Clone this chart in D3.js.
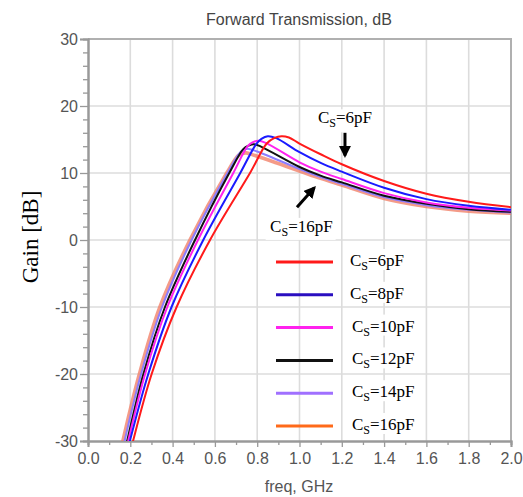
<!DOCTYPE html>
<html><head><meta charset="utf-8">
<script src="https://cdn.jsdelivr.net/npm/d3@7"></script>
<style>body{margin:0;background:#fff}</style>
</head><body><svg id="c" width="523" height="497"></svg>
<script>
// ---- data ----
const seriesNames = ["6pF","8pF","10pF","12pF","14pF","16pF"];
const plotColors = ["#ff1a1a","#1a1aff","#ff22ee","#111111","#8c7cff","#f07a60"];
const legendColors = ["#ff1a1a","#2a0fc0","#ff22ee","#111111","#a070ff","#ff6a1a"];
const freq6  = [0.19,0.213,0.301,0.419,0.577,0.766,0.845,0.88,0.915,0.95,1.0,1.1,1.2,1.4,1.6,1.8,2.0];
const gain6  = [-33,-30,-20,-10,0,10,14.4,15.2,15.5,15.3,14.4,12.8,11.3,8.8,6.9,5.7,4.9];
const freq8  = [0.175,0.198,0.285,0.395,0.545,0.72,0.795,0.82,0.85,0.89,1.0,1.1,1.2,1.4,1.6,1.8,2.0];
const gain8  = [-33,-30,-20,-10,0,10,14.3,15.1,15.5,15.2,13.1,11.5,10.2,7.8,6.1,5.1,4.5];
const freq10 = [0.168,0.19,0.27,0.375,0.52,0.687,0.755,0.78,0.805,0.84,1.0,1.1,1.2,1.4,1.6,1.8,2.0];
const gain10 = [-33,-30,-20,-10,0,10,14.0,14.6,14.8,14.5,11.6,10.2,9.1,7.0,5.6,4.8,4.4];
const freq12 = [0.164,0.185,0.262,0.364,0.506,0.668,0.735,0.76,0.785,0.82,1.0,1.1,1.2,1.4,1.6,1.8,2.0];
const gain12 = [-33,-30,-20,-10,0,10,13.6,14.1,14.3,13.9,10.9,9.6,8.6,6.6,5.4,4.6,4.2];
const freq14 = [0.153,0.173,0.251,0.35,0.49,0.66,0.72,0.74,0.76,0.8,1.0,1.1,1.2,1.4,1.6,1.8,2.0];
const gain14 = [-33,-30,-20,-10,0,10,13.1,13.5,13.6,13.2,10.6,9.4,8.4,6.4,5.2,4.5,4.1];
const freq16 = [0.145,0.165,0.243,0.34,0.482,0.656,0.71,0.728,0.748,0.79,1.0,1.1,1.2,1.4,1.6,1.8,2.0];
const gain16 = [-33,-30,-20,-10,0,10,12.6,12.9,13.0,12.6,10.3,9.2,8.2,6.2,5.0,4.3,4.0];
const xTicks = [0,0.2,0.4,0.6,0.8,1.0,1.2,1.4,1.6,1.8,2.0];
const yTicks = [-30,-20,-10,0,10,20,30];
const title = "Forward Transmission, dB";
const xLabel = "freq, GHz";
const yLabel = "Gain [dB]";

const freqs = [freq6,freq8,freq10,freq12,freq14,freq16];
const gains = [gain6,gain8,gain10,gain12,gain14,gain16];

// ---- layout ----
const svg = d3.select("#c");
const L = 88, R = 511, T = 39, B = 441;
const x = d3.scaleLinear().domain([0,2]).range([L,R]);
const y = d3.scaleLinear().domain([-30,30]).range([B,T]);
const sans = "'Liberation Sans', Arial, sans-serif";
const serif = "'Liberation Serif', 'Times New Roman', serif";

// grid
const g = svg.append("g");
g.selectAll(".vg").data(xTicks.filter(d=>d>0 && d<2)).join("line")
  .attr("x1",d=>x(d)).attr("x2",d=>x(d)).attr("y1",T).attr("y2",B)
  .attr("stroke","#dcdcdc").attr("stroke-width",1.6);
g.selectAll(".hg").data(yTicks.filter(d=>d>-30 && d<30)).join("line")
  .attr("y1",d=>y(d)).attr("y2",d=>y(d)).attr("x1",L).attr("x2",R)
  .attr("stroke","#dcdcdc").attr("stroke-width",1.6);
svg.append("path").attr("d",`M${L},${T}H${R}V${B}`).attr("fill","none")
  .attr("stroke","#b0b0b0").attr("stroke-width",2);

// axes
const xAxis = d3.axisBottom(x).tickValues(xTicks).tickFormat(d3.format(".1f")).tickSize(6).tickPadding(6);
const xMinor = d3.axisBottom(x).tickValues(d3.range(0.1,2,0.2)).tickFormat("").tickSize(4);
const yAxis = d3.axisLeft(y).tickValues(yTicks).tickFormat(d=>String(d)).tickSize(8).tickPadding(2);
const yMinor = d3.axisLeft(y).tickValues(d3.range(-28,30,2).filter(d=>d%10!==0)).tickFormat("").tickSize(5);

function styleAxis(sel){
  sel.select(".domain").attr("stroke","#999").attr("stroke-width",2);
  sel.selectAll(".tick line").attr("stroke","#999").attr("stroke-width",1.3);
  sel.selectAll(".tick text").attr("fill","#555").style("font-family",sans).style("font-size","16px");
}
svg.append("g").attr("transform",`translate(0,${B})`).call(xMinor).call(styleAxis);
svg.append("g").attr("transform",`translate(0,${B})`).call(xAxis).call(styleAxis);
svg.append("g").attr("transform",`translate(${L},0)`).call(yMinor).call(styleAxis);
svg.append("g").attr("transform",`translate(${L},0)`).call(yAxis).call(styleAxis);

// labels
svg.append("text").attr("x",299).attr("y",25).attr("text-anchor","middle")
  .style("font-family",sans).style("font-size","16px").attr("fill","#444").text(title);
svg.append("text").attr("x",299).attr("y",492).attr("text-anchor","middle")
  .style("font-family",sans).style("font-size","16px").attr("fill","#555").text(xLabel);
svg.append("text").attr("transform","translate(38,237) rotate(-90)").attr("text-anchor","middle")
  .style("font-family",serif).style("font-size","23px").attr("fill","#000").text(yLabel);

// curves
svg.append("clipPath").attr("id","clip").append("rect")
  .attr("x",L).attr("y",T).attr("width",R-L).attr("height",B-T);
const line = d3.line().x(d=>x(d[0])).y(d=>y(d[1])).curve(d3.curveCatmullRom.alpha(0.5));
const order = [5,4,3,2,1,0];
const cg = svg.append("g").attr("clip-path","url(#clip)");
order.forEach(i=>{
  const pts = freqs[i].map((f,k)=>[f,gains[i][k]]);
  cg.append("path").attr("d",line(pts)).attr("fill","none")
    .attr("stroke",plotColors[i])
    .attr("stroke-width", i===5?3.6:2)
    .attr("stroke-opacity", i===5?0.75:1);
});

// legend
function csLabel(sel,name){
  sel.append("tspan").text("C");
  sel.append("tspan").attr("dy",4).style("font-size","12px").text("S");
  sel.append("tspan").attr("dy",-4).text("="+name);
}
const legY0 = 262, legDy = 32.8;
seriesNames.forEach((n,i)=>{
  const yy = legY0 + i*legDy;
  svg.append("line").attr("x1",276).attr("x2",333).attr("y1",yy).attr("y2",yy)
    .attr("stroke",legendColors[i]).attr("stroke-width",3);
  svg.append("rect").attr("x",347).attr("y",yy-13).attr("width",70).attr("height",21).attr("fill","#fff");
  const t = svg.append("text").attr("x", i<2?350:352).attr("y",yy+4)
    .style("font-family",serif).style("font-size","17px").attr("fill","#000");
  csLabel(t,n);
});

// annotations
const defs = svg.append("defs");
defs.append("marker").attr("id","ah").attr("viewBox","0 0 10 10").attr("refX",8).attr("refY",5)
  .attr("markerWidth",4).attr("markerHeight",4).attr("orient","auto")
  .append("path").attr("d","M0,0L10,5L0,10Z").attr("fill","#000");
svg.append("rect").attr("x",x(1.06)).attr("y",y(19.5)).attr("width",64).attr("height",23).attr("fill","#fff");
const a1 = svg.append("text").attr("x",x(1.087)).attr("y",y(17.5))
  .style("font-family",serif).style("font-size","17px"); csLabel(a1,"6pF");
svg.append("line").attr("x1",x(1.215)).attr("y1",y(16.0)).attr("x2",x(1.215)).attr("y2",y(12.6))
  .attr("stroke","#000").attr("stroke-width",3).attr("marker-end","url(#ah)");
svg.append("line").attr("x1",x(0.988)).attr("y1",y(4.9)).attr("x2",x(1.07)).attr("y2",y(7.8))
  .attr("stroke","#000").attr("stroke-width",3).attr("marker-end","url(#ah)");
svg.append("rect").attr("x",x(0.84)).attr("y",y(3.3)).attr("width",70).attr("height",22).attr("fill","#fff");
const a2 = svg.append("text").attr("x",x(0.861)).attr("y",y(1.2))
  .style("font-family",serif).style("font-size","17px"); csLabel(a2,"16pF");
</script></body></html>
